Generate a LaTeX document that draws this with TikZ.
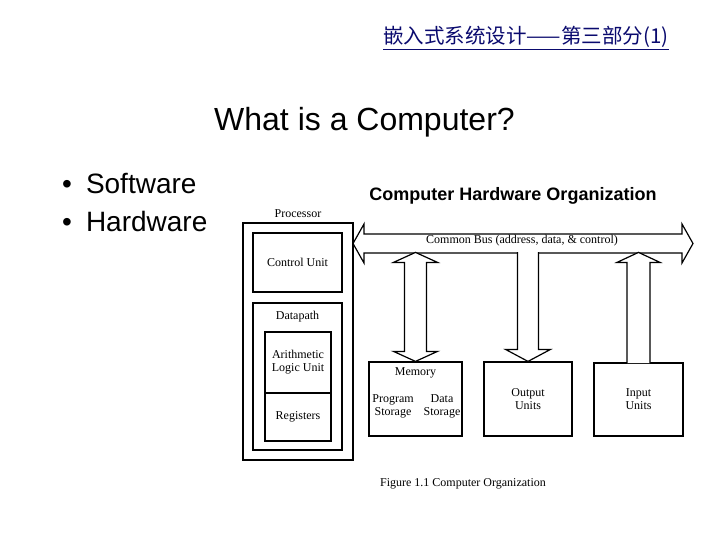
\documentclass[tikz,border=0pt]{standalone}
\usepackage{fontspec}
\setmainfont{Liberation Serif}
\newfontfamily\arial{Liberation Sans}
\newfontfamily\cjk{Noto Sans CJK SC}
\usetikzlibrary{calc}
\definecolor{navy}{RGB}{10,10,110}

\begin{document}
\begin{tikzpicture}[x=1pt, y=-1pt,
    box/.style={draw, line width=1.2pt, inner sep=0pt},
    thickbox/.style={draw, line width=1.7pt, inner sep=0pt},
    lbl/.style={font=\fontsize{12}{13}\selectfont, align=center, inner sep=0pt},
    slide/.style={font=\arial\fontsize{28}{30}\selectfont, anchor=base west, inner sep=0pt},
    blockarrow/.style={draw, fill=white, line width=1.2pt, line join=miter}]
    \useasboundingbox (0,0) rectangle (720,540);

    % slide text
    \node[font=\cjk\fontsize{20.5}{22}\selectfont, text=navy, inner sep=0pt] (hdr) at (526,38) {\underline{嵌入式系统设计——第三部分(1)}};
    \node[slide, font=\arial\fontsize{32}{34}\selectfont] (title) at (214,131) {What is a Computer?};
    \node[slide] (sw) at (62,194) {•\hspace{14pt}Software};
    \node[slide] (hw) at (62,232) {•\hspace{14pt}Hardware};
    \node[font=\arial\bfseries\fontsize{18}{20}\selectfont, inner sep=0pt] (heading) at (513,196) {Computer Hardware Organization};

    % processor
    \node[box, minimum width=110pt, minimum height=237pt] (proc) at (298,341.5) {};
    \node[lbl] (proclbl) at (298,214) {Processor};
    \node[box, minimum width=89pt, minimum height=59pt] (cu) at (297.5,262.5) {};
    \node[lbl] at (cu) {Control Unit};
    \node[box, minimum width=89pt, minimum height=147pt] (dp) at (297.5,376.5) {};
    \node[lbl] (dplbl) at (297.5,317) {Datapath};
    \node[thickbox, minimum width=66pt, minimum height=61pt] (alu) at (298,362.5) {};
    \node[lbl] at (alu) {Arithmetic\\Logic Unit};
    \node[thickbox, minimum width=66pt, minimum height=48pt] (reg) at (298,417) {};
    \node[lbl] at (reg) {Registers};

    % bus
    \draw[blockarrow] (353,243.5) -- (364,224) -- (364,234) -- (682,234) -- (682,224)
        -- (693,243.5) -- (682,263) -- (682,253) -- (364,253) -- (364,263) -- cycle;
    \node[lbl] (bus) at (522,241) {Common Bus (address, data, \& control)};

    % units
    \node[box, minimum width=93pt, minimum height=74pt] (mem) at (415.5,399) {};
    \node[lbl] (memlbl) at (415.5,373) {Memory};
    \node[lbl] (prog) at (393,406.5) {Program\\Storage};
    \node[lbl] (data) at (442,406.5) {Data\\Storage};
    \node[box, minimum width=88pt, minimum height=74pt] (outp) at (528,399) {};
    \node[lbl] at (outp) {Output\\Units};
    \node[box, minimum width=89pt, minimum height=73pt] (inp) at (638.5,399.5) {};
    \node[lbl] at (inp) {Input\\Units};

    % block arrows
    \draw[blockarrow] (mem.north) -- ++(-22,-10) -- ++(11,0) -- ++(0,-89) -- ++(-11,0)
        -- ++(22,-10) -- ++(22,10) -- ++(-11,0) -- ++(0,89) -- ++(11,0) -- cycle;
    \draw[blockarrow] ($(outp.north)+(-10.5,-109.4)$) -- ++(0,97.4) -- ++(-12,0)
        -- (outp.north) -- ++(22.5,-12) -- ++(-12,0) -- ++(0,-97.4);
    \draw[blockarrow] ($(inp.north)+(-11.5,0.8)$) -- ++(0,-100.8) -- ++(-10,0)
        -- ++(21.5,-10) -- ++(21.5,10) -- ++(-10,0) -- ++(0,100.8);

    \node[lbl] (caption) at (463,484) {Figure 1.1 Computer Organization};
\end{tikzpicture}
\end{document}
